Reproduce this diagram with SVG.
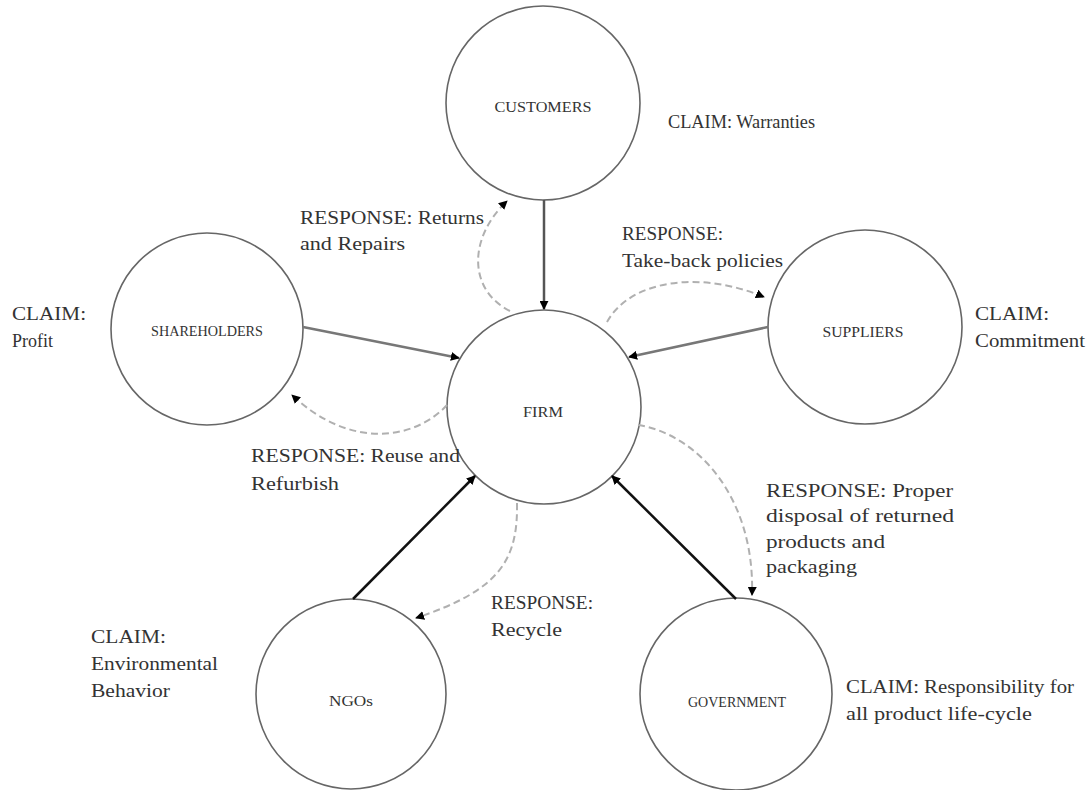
<svg xmlns="http://www.w3.org/2000/svg" width="1087" height="790" viewBox="0 0 1087 790">
<style>
.node{fill:#fff;stroke:#666;stroke-width:1.6}
.nl{font-family:"Liberation Serif","Times New Roman",serif;font-size:15px;fill:#333;text-anchor:middle}
.t{font-family:"Liberation Serif","Times New Roman",serif;font-size:18px;fill:#333}
.claim{fill:none;stroke-width:2.5}
.resp{fill:none;stroke:#b0b0b0;stroke-width:2;stroke-dasharray:7 4}
</style>
<defs>
<marker id="ah" viewBox="0 0 10 10" refX="9" refY="5" markerWidth="9" markerHeight="9" markerUnits="userSpaceOnUse" orient="auto">
<path d="M0,0 L10,5 L0,10 z" fill="#000"/>
</marker>
</defs>
<rect width="1087" height="790" fill="#fff"/>
<g id="customers"><circle class="node" cx="543" cy="103" r="97"/><text class="nl" x="543" y="112" textLength="97" lengthAdjust="spacingAndGlyphs">CUSTOMERS</text></g>
<g id="firm"><circle class="node" cx="544" cy="407" r="97"/><text class="nl" x="543" y="417" textLength="40" lengthAdjust="spacingAndGlyphs">FIRM</text></g>
<g id="shareholders"><circle class="node" cx="207" cy="329" r="96"/><text class="nl" x="207" y="336" textLength="112" lengthAdjust="spacingAndGlyphs">SHAREHOLDERS</text></g>
<g id="suppliers"><circle class="node" cx="865" cy="327" r="97"/><text class="nl" x="863" y="337" textLength="81" lengthAdjust="spacingAndGlyphs">SUPPLIERS</text></g>
<g id="ngos"><circle class="node" cx="351" cy="694" r="95"/><text class="nl" x="351" y="706" textLength="44" lengthAdjust="spacingAndGlyphs">NGOs</text></g>
<g id="government"><circle class="node" cx="736" cy="694" r="96"/><text class="nl" x="737" y="707" textLength="98" lengthAdjust="spacingAndGlyphs">GOVERNMENT</text></g>
<g id="connectors">
<line class="claim" x1="544" y1="200" x2="544" y2="309" stroke="#555" stroke-width="2" marker-end="url(#ah)"/>
<line class="claim" x1="303" y1="327" x2="459" y2="358" stroke="#777" marker-end="url(#ah)"/>
<line class="claim" x1="768" y1="327" x2="629" y2="357" stroke="#777" marker-end="url(#ah)"/>
<line class="claim" x1="353" y1="599" x2="475" y2="476" stroke="#111" marker-end="url(#ah)"/>
<line class="claim" x1="736" y1="599" x2="612" y2="476" stroke="#111" marker-end="url(#ah)"/>
<path class="resp" d="M510 311 C468 290 468 238 507 201" marker-end="url(#ah)"/>
<path class="resp" d="M607 322 C630 280 700 270 764 297" marker-end="url(#ah)"/>
<path class="resp" d="M447 405 C415 440 350 450 292 395" marker-end="url(#ah)"/>
<path class="resp" d="M638 425 C700 435 755 500 752 595" marker-end="url(#ah)"/>
<path class="resp" d="M517 503 C518 560 500 590 416 618" marker-end="url(#ah)"/>
</g>
<g id="labels">
<text class="t" x="668" y="128" textLength="147" lengthAdjust="spacingAndGlyphs">CLAIM: Warranties</text>
<text class="t" x="300" y="224" textLength="184" lengthAdjust="spacingAndGlyphs">RESPONSE: Returns</text>
<text class="t" x="300" y="250" textLength="105" lengthAdjust="spacingAndGlyphs">and Repairs</text>
<text class="t" x="622" y="240" textLength="101" lengthAdjust="spacingAndGlyphs">RESPONSE:</text>
<text class="t" x="622" y="267" textLength="161" lengthAdjust="spacingAndGlyphs">Take-back policies</text>
<text class="t" x="12" y="320" textLength="74" lengthAdjust="spacingAndGlyphs">CLAIM:</text>
<text class="t" x="12" y="347">Profit</text>
<text class="t" x="975" y="320" textLength="74" lengthAdjust="spacingAndGlyphs">CLAIM:</text>
<text class="t" x="975" y="347" textLength="110" lengthAdjust="spacingAndGlyphs">Commitment</text>
<text class="t" x="251" y="462" textLength="209" lengthAdjust="spacingAndGlyphs">RESPONSE: Reuse and</text>
<text class="t" x="251" y="490" textLength="88" lengthAdjust="spacingAndGlyphs">Refurbish</text>
<text class="t" x="766" y="497" textLength="187" lengthAdjust="spacingAndGlyphs">RESPONSE: Proper</text>
<text class="t" x="766" y="522" textLength="188" lengthAdjust="spacingAndGlyphs">disposal of returned</text>
<text class="t" x="766" y="548" textLength="119" lengthAdjust="spacingAndGlyphs">products and</text>
<text class="t" x="766" y="573" textLength="91" lengthAdjust="spacingAndGlyphs">packaging</text>
<text class="t" x="491" y="609" textLength="102" lengthAdjust="spacingAndGlyphs">RESPONSE:</text>
<text class="t" x="491" y="636" textLength="71" lengthAdjust="spacingAndGlyphs">Recycle</text>
<text class="t" x="91" y="643" textLength="75" lengthAdjust="spacingAndGlyphs">CLAIM:</text>
<text class="t" x="91" y="670" textLength="127" lengthAdjust="spacingAndGlyphs">Environmental</text>
<text class="t" x="91" y="697" textLength="79" lengthAdjust="spacingAndGlyphs">Behavior</text>
<text class="t" x="846" y="693" textLength="228" lengthAdjust="spacingAndGlyphs">CLAIM: Responsibility for</text>
<text class="t" x="846" y="720" textLength="186" lengthAdjust="spacingAndGlyphs">all product life-cycle</text>
</g>
</svg>
